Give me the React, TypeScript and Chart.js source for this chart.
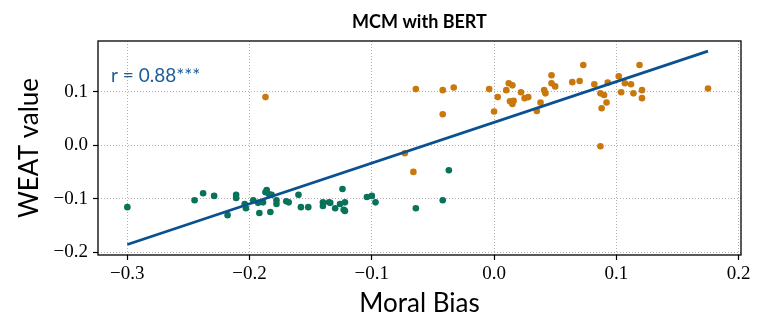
import React, { useEffect, useRef } from 'react';
import { Chart, registerables } from 'chart.js';
Chart.register(...registerables);

// Green (negative bias) cluster
const greenX = [-0.300, -0.245, -0.238, -0.229, -0.218, -0.211, -0.211, -0.204, -0.203, -0.197,
  -0.192, -0.193, -0.189, -0.187, -0.186, -0.184, -0.182, -0.183, -0.178, -0.178,
  -0.170, -0.168, -0.160, -0.158, -0.152, -0.140, -0.140, -0.135, -0.134, -0.130,
  -0.126, -0.124, -0.123, -0.122, -0.122, -0.104, -0.100, -0.097, -0.064, -0.042, -0.037];
const greenY = [-0.116, -0.103, -0.090, -0.095, -0.131, -0.093, -0.099, -0.110, -0.118, -0.103,
  -0.127, -0.108, -0.107, -0.088, -0.084, -0.092, -0.093, -0.125, -0.103, -0.110,
  -0.105, -0.107, -0.093, -0.116, -0.116, -0.107, -0.114, -0.107, -0.108, -0.118,
  -0.110, -0.082, -0.121, -0.123, -0.107, -0.097, -0.095, -0.107, -0.118, -0.103, -0.047];

// Orange (positive bias) cluster
const orangeX = [-0.187, -0.073, -0.066, -0.064, -0.042, -0.042, -0.033, -0.004, 0.000, 0.003,
  0.010, 0.012, 0.015, 0.013, 0.015, 0.016, 0.022, 0.025, 0.028, 0.035,
  0.038, 0.041, 0.042, 0.047, 0.047, 0.050, 0.064, 0.070, 0.073, 0.082,
  0.087, 0.090, 0.088, 0.092, 0.093, 0.087, 0.102, 0.104, 0.107, 0.112,
  0.114, 0.119, 0.121, 0.121, 0.175];
const orangeY = [0.090, -0.015, -0.050, 0.105, 0.103, 0.058, 0.108, 0.105, 0.063, 0.090,
  0.103, 0.116, 0.112, 0.082, 0.077, 0.083, 0.099, 0.088, 0.090, 0.064,
  0.080, 0.103, 0.097, 0.131, 0.116, 0.110, 0.118, 0.120, 0.150, 0.114,
  0.097, 0.094, 0.069, 0.080, 0.117, -0.002, 0.129, 0.099, 0.116, 0.114,
  0.097, 0.150, 0.103, 0.088, 0.106];

// Regression line end points
const fitX = [-0.300, 0.175];
const fitY = [-0.186, 0.176];

const xTicks = [-0.3, -0.2, -0.1, 0.0, 0.1, 0.2];
const yTicks = [-0.2, -0.1, 0.0, 0.1];

const TITLE = 'MCM with BERT';
const ANNOTATION = 'r = 0.88***';
const X_LABEL = 'Moral Bias';
const Y_LABEL = 'WEAT value';

const GREEN = '#08735a';
const ORANGE = '#c8780c';
const LINE = '#0b5190';
const ANNOT_COLOR = '#1c5c98';

const fmt = (v: number) => {
  const s = Math.abs(v) < 1e-9 ? '0.0' : v.toFixed(1);
  return s.replace('-', '\u2212');
};

const zip = (xs: number[], ys: number[]) => xs.map((x, i) => ({ x, y: ys[i] }));

export default function App() {
  const ref = useRef<HTMLCanvasElement | null>(null);
  useEffect(() => {
    if (!ref.current) return;
    const framePlugin = {
      id: 'frame',
      afterDraw(chart: any) {
        const { ctx, chartArea } = chart;
        ctx.save();
        ctx.strokeStyle = '#000';
        ctx.lineWidth = 1.3;
        ctx.strokeRect(chartArea.left, chartArea.top, chartArea.right - chartArea.left, chartArea.bottom - chartArea.top);
        ctx.fillStyle = '#000';
        ctx.font = 'bold 18px Lato';
        ctx.textAlign = 'center';
        ctx.textBaseline = 'middle';
        ctx.fillText(TITLE, (chartArea.left + chartArea.right) / 2, 22);
        ctx.fillStyle = ANNOT_COLOR;
        ctx.font = '19px Lato';
        ctx.textAlign = 'left';
        ctx.textBaseline = 'alphabetic';
        ctx.fillText(ANNOTATION, chartArea.left + 13, chartArea.top + 41);
        ctx.restore();
      },
    };
    const chart = new Chart(ref.current, {
      type: 'scatter',
      data: {
        datasets: [
          {
            type: 'line',
            data: zip(fitX, fitY),
            borderColor: LINE,
            borderWidth: 2.8,
            pointRadius: 0,
            fill: false,
          } as any,
          {
            data: zip(greenX, greenY),
            backgroundColor: GREEN,
            borderWidth: 0,
            pointRadius: 3.3,
          },
          {
            data: zip(orangeX, orangeY),
            backgroundColor: ORANGE,
            borderWidth: 0,
            pointRadius: 3.3,
          },
        ],
      },
      options: {
        animation: false,
        responsive: false,
        layout: { padding: { left: 0, right: 24, top: 41, bottom: 0 } },
        plugins: { legend: { display: false }, tooltip: { enabled: false }, title: { display: false } },
        scales: {
          x: {
            type: 'linear',
            min: -0.324,
            max: 0.202,
            afterBuildTicks: (s: any) => { s.ticks = xTicks.map((v) => ({ value: v })); },
            afterFit: (s: any) => { s.height = 76; },
            ticks: {
              callback: (v: any) => fmt(Number(v)),
              font: { family: 'Liberation Serif', size: 19 },
              color: '#000',
              padding: 3,
              maxRotation: 0,
            },
            grid: { color: '#b0b0b0', lineWidth: 1, tickColor: '#000', tickLength: 5, tickWidth: 1.2 },
            border: { display: false, dash: [1, 2] },
            title: { display: true, text: X_LABEL, font: { family: 'Lato', size: 26 }, color: '#000', padding: { top: 0, bottom: 12 } },
          },
          y: {
            type: 'linear',
            min: -0.2056,
            max: 0.195,
            afterBuildTicks: (s: any) => { s.ticks = yTicks.map((v) => ({ value: v })); },
            afterFit: (s: any) => { s.width = 98; },
            ticks: {
              callback: (v: any) => fmt(Number(v)),
              font: { family: 'Liberation Serif', size: 19 },
              color: '#000',
              padding: 5,
            },
            grid: { color: '#b0b0b0', lineWidth: 1, tickColor: '#000', tickLength: 5, tickWidth: 1.2 },
            border: { display: false, dash: [1, 2] },
            title: { display: true, text: Y_LABEL, font: { family: 'Lato', size: 26 }, color: '#000', padding: { top: 14, bottom: 0 } },
          },
        },
      },
      plugins: [framePlugin],
    });
    return () => chart.destroy();
  }, []);
  return (
    <div style={{ position: 'absolute', left: 0, top: 0, width: 765, height: 331, background: '#fff' }}>
      <canvas ref={ref} width={765} height={331} style={{ width: 765, height: 331, display: 'block' }} />
    </div>
  );
}
